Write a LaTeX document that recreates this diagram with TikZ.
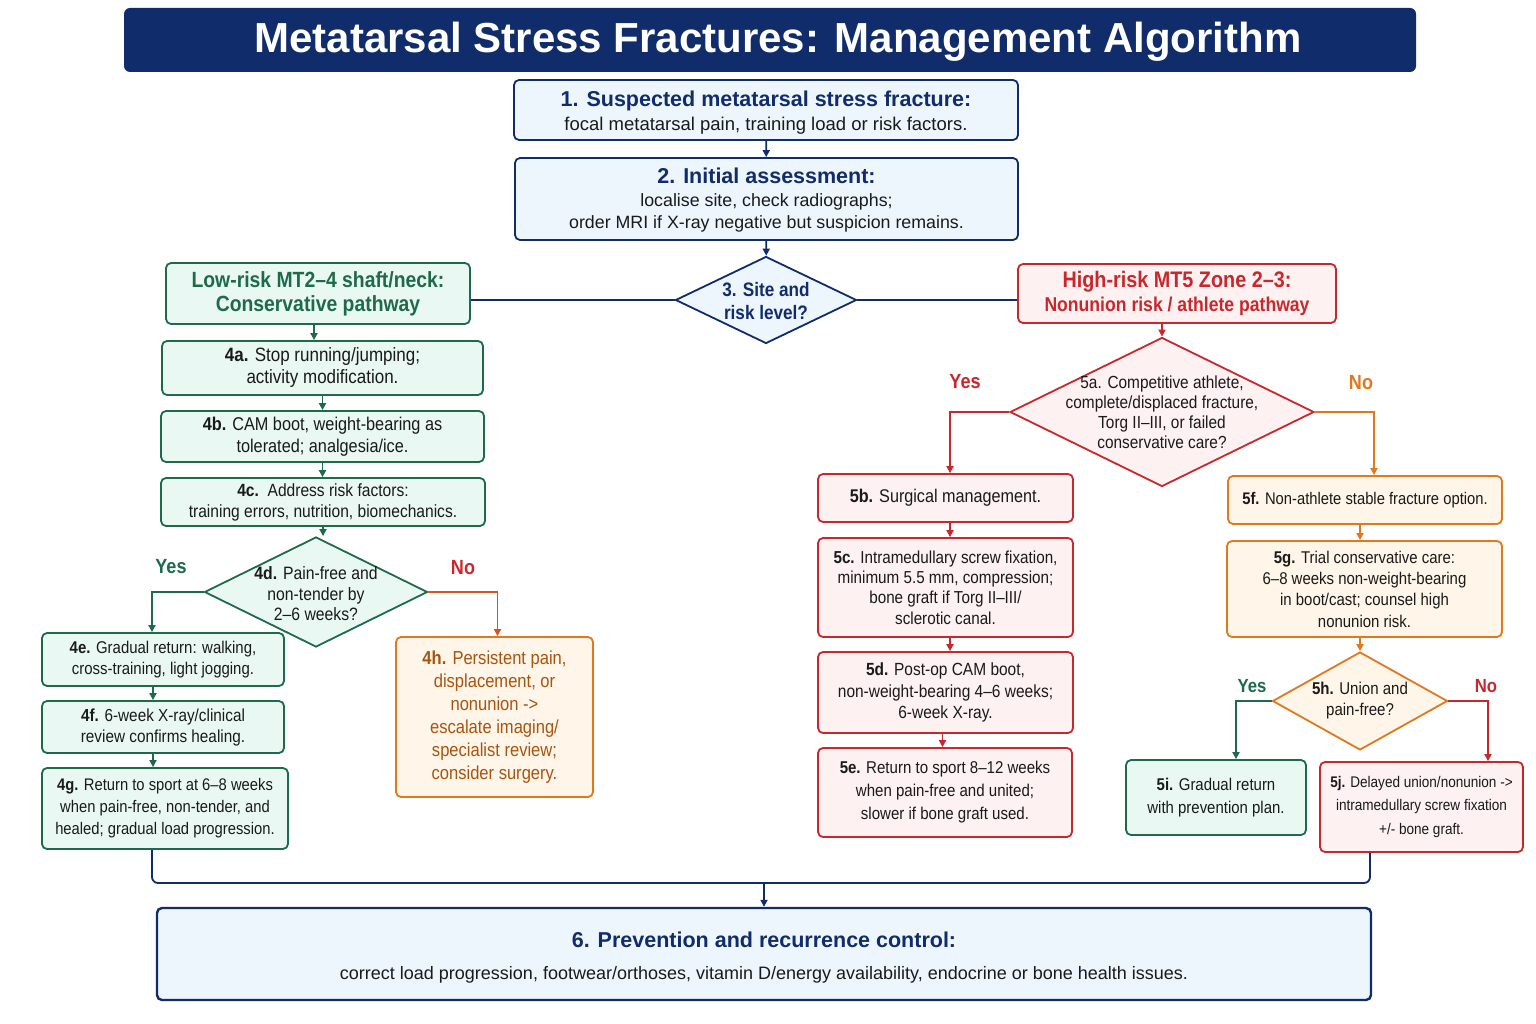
\documentclass[tikz,border=0pt]{standalone}
\usepackage{fontspec}
\setmainfont{Liberation Sans}
\newfontfamily\condf[FakeStretch=0.88]{Liberation Sans}
\usetikzlibrary{shapes.geometric,arrows.meta,calc}
\definecolor{navy}{HTML}{102C6B}
\definecolor{bluefill}{HTML}{EDF6FD}
\definecolor{grn}{HTML}{1D6B4B}
\definecolor{grnfill}{HTML}{EAF8F3}
\definecolor{rd}{HTML}{C8282D}
\definecolor{rdfill}{HTML}{FDF1F1}
\definecolor{org}{HTML}{E2781E}
\definecolor{orgred}{HTML}{D9531E}
\definecolor{orgfill}{HTML}{FFF5E8}
\definecolor{orgtext}{HTML}{A8540F}
\definecolor{ink}{HTML}{1A1A1A}
\begin{document}
\begin{tikzpicture}[x=1pt,y=-1pt,
  box/.style={draw, rounded corners=5pt, line width=1.8pt, align=center, inner sep=2pt, text=ink},
  navybox/.style={box, draw=navy, fill=bluefill},
  grnbox/.style={box, draw=grn, fill=grnfill},
  rdbox/.style={box, draw=rd, fill=rdfill},
  orgbox/.style={box, draw=org, fill=orgfill},
  dia/.style={diamond, draw, line width=1.8pt, inner sep=0pt},
  fnt/.style 2 args={font=\condf\fontsize{#1}{#2}\selectfont},
  dtext/.style={align=center, text=ink},
  arr/.style={-{Triangle[length=7pt,width=7pt]}, line width=1.8pt},
  plain/.style={line width=1.8pt},
  lbl/.style={font=\condf\bfseries\fontsize{20.5}{24}\selectfont},
  slbl/.style={font=\condf\bfseries\fontsize{19}{20}\selectfont}
]
\useasboundingbox (0,0) rectangle (1536,1024);
\fill[white] (0,0) rectangle (1536,1024);

% title
\node[fill=navy, rounded corners=6pt, minimum width=1292, minimum height=64] (title) at (770,40) {};
\node[text=white, font=\bfseries\fontsize{42}{46}\selectfont] (titletext) at (778,42) {Metatarsal Stress Fractures: Management Algorithm};

% top
\node[navybox, minimum width=504, minimum height=60] (b1) at (766,110) {};
\node[align=center, text=ink, font=\fontsize{18.5}{24}\selectfont] (b1t) at (766,112.5)
  {{\color{navy}\bfseries\fontsize{21.5}{24}\selectfont 1. Suspected metatarsal stress fracture:}\\
   focal metatarsal pain, training load or risk factors.};
\node[navybox, minimum width=503, minimum height=82] (b2) at (766.5,199) {};
\node[align=center, text=ink, font=\fontsize{17.8}{22.5}\selectfont] (b2t) at (766.5,200.5)
  {{\color{navy}\bfseries\fontsize{21.5}{24}\selectfont 2. Initial assessment:}\\
   localise site, check radiographs;\\
   order MRI if X-ray negative but suspicion remains.};
\node[dia, draw=navy, fill=bluefill, minimum width=181, minimum height=87] (d3) at (766,300) {};
\node[align=center, text=navy, font=\condf\bfseries\fontsize{19.5}{23}\selectfont] (d3t) at (766,301) {3. Site and\\risk level?};

\node[grnbox, minimum width=304, minimum height=61, text=grn, font=\condf\bfseries\fontsize{22}{24}\selectfont] (L) at (318,293.5)
  {Low-risk MT2–4 shaft/neck:\\Conservative pathway};
\node[rdbox, minimum width=318, minimum height=59, text=rd, font=\condf\bfseries\fontsize{20}{24}\selectfont] (R) at (1177,293.5)
  {{\fontsize{22.5}{24}\selectfont High-risk MT5 Zone 2–3:}\\Nonunion risk / athlete pathway};

% left column
\node[grnbox, fnt={19.3}{22}, minimum width=321, minimum height=54] (b4a) at (322.5,368)
  {\textbf{4a.} Stop running/jumping;\\activity modification.};
\node[grnbox, fnt={18.5}{22}, minimum width=323, minimum height=51] (b4b) at (322.5,436.5)
  {\textbf{4b.} CAM boot, weight-bearing as\\tolerated; analgesia/ice.};
\node[grnbox, fnt={17.7}{21}, minimum width=324, minimum height=48] (b4c) at (323,502)
  {\textbf{4c.}\ \ Address risk factors:\\training errors, nutrition, biomechanics.};
\node[dia, draw=grn, fill=grnfill, minimum width=223, minimum height=110] (d4) at (316,592) {};
\node[dtext, fnt={17.9}{20.5}] (d4t) at (316,594) {\textbf{4d.} Pain-free and\\non-tender by\\2–6 weeks?};
\node[grnbox, fnt={17}{21}, minimum width=242, minimum height=53] (b4e) at (163,659.5)
  {\textbf{4e.} Gradual return: walking,\\cross-training, light jogging.};
\node[grnbox, fnt={17.4}{21}, minimum width=242, minimum height=52] (b4f) at (163,727)
  {\textbf{4f.} 6-week X-ray/clinical\\review confirms healing.};
\node[grnbox, fnt={16.8}{22}, minimum width=246, minimum height=81] (b4g) at (165,808.5)
  {\textbf{4g.} Return to sport at 6–8 weeks\\when pain-free, non-tender, and\\healed; gradual load progression.};
\node[orgbox, minimum width=197, minimum height=160, text=orgtext, fnt={18.8}{23}] (b4h) at (494.5,717)
  {\textbf{4h.} Persistent pain,\\displacement, or\\nonunion ->\\escalate imaging/\\specialist review;\\consider surgery.};

% right column
\node[dia, draw=rd, fill=rdfill, minimum width=304, minimum height=149] (d5a) at (1162,412) {};
\node[dtext, fnt={17.5}{20}] (d5at) at (1162,412) {5a. Competitive athlete,\\complete/displaced fracture,\\Torg II–III, or failed\\conservative care?};
\node[rdbox, fnt={18.4}{21}, minimum width=255, minimum height=48] (b5b) at (945.5,498)
  {\textbf{5b.} Surgical management.};
\node[rdbox, fnt={17.3}{20.3}, minimum width=255, minimum height=99] (b5c) at (945.5,587.5)
  {\textbf{5c.} Intramedullary screw fixation,\\minimum 5.5 mm, compression;\\bone graft if Torg II–III/\\sclerotic canal.};
\node[rdbox, fnt={17.6}{21.5}, minimum width=255, minimum height=81] (b5d) at (945.5,692.5)
  {\textbf{5d.} Post-op CAM boot,\\non-weight-bearing 4–6 weeks;\\6-week X-ray.};
\node[rdbox, fnt={17.1}{23}, minimum width=254, minimum height=89] (b5e) at (945,792.5)
  {\textbf{5e.} Return to sport 8–12 weeks\\when pain-free and united;\\slower if bone graft used.};
\node[orgbox, fnt={16.8}{21}, minimum width=274, minimum height=48] (b5f) at (1365,500)
  {\textbf{5f.} Non-athlete stable fracture option.};
\node[orgbox, fnt={17}{21.3}, minimum width=275, minimum height=96] (b5g) at (1364.5,589)
  {\textbf{5g.} Trial conservative care:\\6–8 weeks non-weight-bearing\\in boot/cast; counsel high\\nonunion risk.};
\node[dia, draw=org, fill=orgfill, minimum width=175, minimum height=98] (d5h) at (1360,701) {};
\node[dtext, fnt={17.1}{21}] (d5ht) at (1360,701) {\textbf{5h.} Union and\\pain-free?};
\node[grnbox, fnt={17}{23}, minimum width=180, minimum height=75] (b5i) at (1216,797.5)
  {\textbf{5i.} Gradual return\\with prevention plan.};
\node[rdbox, fnt={15.4}{23.5}, minimum width=203, minimum height=90] (b5j) at (1421.5,807)
  {\textbf{5j.} Delayed union/nonunion ->\\intramedullary screw fixation\\+/- bone graft.};

% bottom
\node[navybox, line width=2.4pt, minimum width=1214, minimum height=92] (b6) at (764,954) {};
\node[align=center, text=ink, font=\fontsize{18}{32}\selectfont] (b6t) at (764,958)
  {{\color{navy}\bfseries\fontsize{21.5}{32}\selectfont 6. Prevention and recurrence control:}\\
   correct load progression, footwear/orthoses, vitamin D/energy availability, endocrine or bone health issues.};

% connectors top
\draw[arr, navy] (b1) -- (b2);
\draw[arr, navy] (b2) -- (d3);
\draw[plain, navy] (d3.west) -- (d3.west -| L.east);
\draw[plain, navy] (d3.east) -- (d3.east -| R.west);

% left connectors
\coordinate (cL) at ($(L.south)+(-4,0)$);
\draw[arr, grn] (cL) -- (cL |- b4a.north);
\draw[arr, grn] (b4a.south) -- (b4a.south |- b4b.north);
\draw[arr, grn] (b4b.south) -- (b4b.south |- b4c.north);
\draw[arr, grn] (b4c.south) -- (b4c.south |- d4.north);
\coordinate (c4e) at ($(b4e.north)+(-11,0)$);
\draw[arr, grn] (d4.west) -| (c4e);
\coordinate (c4h) at ($(b4h.north)+(3,0)$);
\draw[arr, orgred] (d4.east) -| (c4h);
\coordinate (c4f) at ($(b4e.south)+(-10,0)$);
\draw[arr, grn] (c4f) -- (c4f |- b4f.north);
\coordinate (c4g) at ($(b4f.south)+(-10,0)$);
\draw[arr, grn] (c4g) -- (c4g |- b4g.north);
\node[lbl, text=grn] (y4) at (171,567) {Yes};
\node[lbl, text=rd] (n4) at (463,568) {No};

% right connectors
\draw[arr, rd] (R.south -| d5a.north) -- (d5a.north);
\coordinate (c5b) at ($(b5b.north)+(4.5,0)$);
\draw[arr, rd] (d5a.west) -| (c5b);
\coordinate (c5f) at ($(b5f.north)+(9,0)$);
\draw[arr, org] (d5a.east) -| (c5f);
\node[lbl, text=rd] (y5) at (965,382) {Yes};
\node[lbl, text=org] (n5) at (1361,383) {No};
\coordinate (c5c) at ($(b5b.south)+(4.5,0)$);
\draw[arr, rd] (c5c) -- (c5c |- b5c.north);
\coordinate (c5d) at ($(b5c.south)+(4.5,0)$);
\draw[arr, rd] (c5d) -- (c5d |- b5d.north);
\coordinate (c5e) at ($(b5d.south)+(-3,0)$);
\draw[arr, rd] (c5e) -- (c5e |- b5e.north);
\coordinate (c5g) at ($(b5f.south)+(-5,0)$);
\draw[arr, org] (c5g) -- (c5g |- b5g.north);
\draw[arr, org] (b5g.south -| d5h.north) -- (d5h.north);
\coordinate (c5i) at ($(b5i.north)+(20,0)$);
\draw[arr, grn] (d5h.west) -| (c5i);
\coordinate (c5j) at ($(b5j.north)+(66.5,0)$);
\draw[arr, rd] (d5h.east) -| (c5j);
\node[slbl, text=grn] (y5h) at (1252,686) {Yes};
\node[slbl, text=rd] (n5h) at (1486,686) {No};

% merge to 6
\coordinate (hub) at (764,883);
\coordinate (m1) at ($(b4g.south)+(-13,0)$);
\coordinate (m2) at ($(b5j.south)+(-51.5,0)$);
\draw[plain, navy, rounded corners=6pt] (m1) |- (hub) -| (m2);
\draw[arr, navy] (hub) -- (b6.north);
\end{tikzpicture}
\end{document}
